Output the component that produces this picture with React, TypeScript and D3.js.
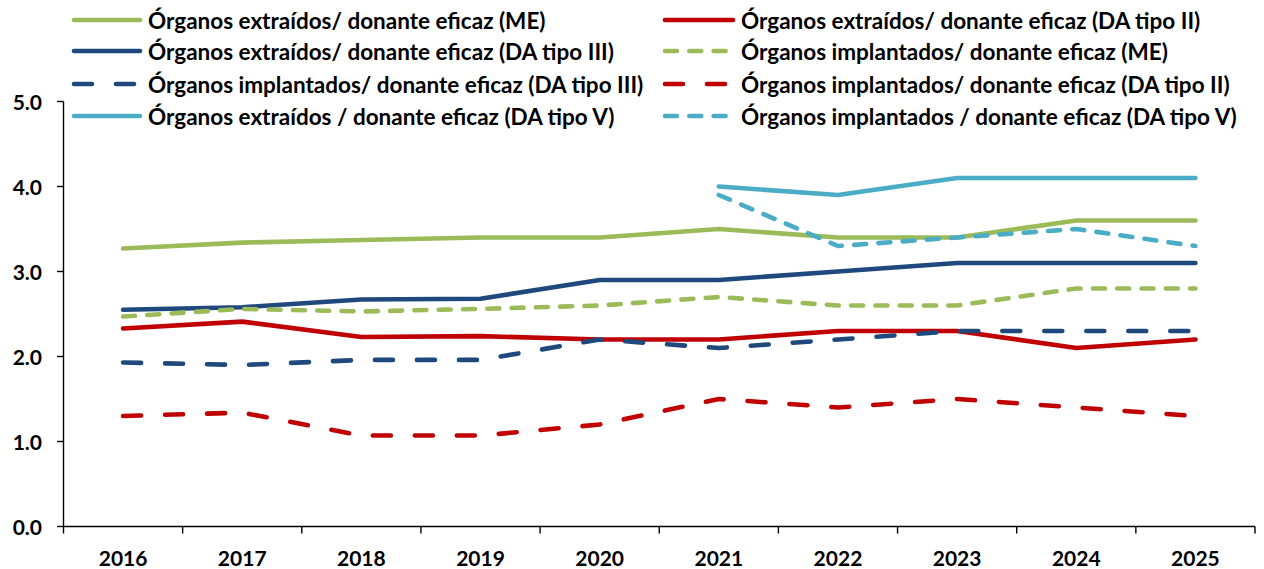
import React from "react";
import * as d3 from "d3";

const years = ["2016", "2017", "2018", "2019", "2020", "2021", "2022", "2023", "2024", "2025"];
const yTicks = [0, 1, 2, 3, 4, 5];

const meExtr = [3.27, 3.34, 3.37, 3.40, 3.40, 3.50, 3.40, 3.40, 3.60, 3.60];
const da2Extr = [2.33, 2.41, 2.23, 2.24, 2.20, 2.20, 2.30, 2.30, 2.10, 2.20];
const da3Extr = [2.55, 2.58, 2.67, 2.68, 2.90, 2.90, 3.00, 3.10, 3.10, 3.10];
const meImpl = [2.47, 2.56, 2.53, 2.56, 2.60, 2.70, 2.60, 2.60, 2.80, 2.80];
const da3Impl = [1.93, 1.90, 1.96, 1.96, 2.20, 2.10, 2.20, 2.30, 2.30, 2.30];
const da2Impl = [1.30, 1.34, 1.07, 1.07, 1.20, 1.50, 1.40, 1.50, 1.40, 1.30];
const da5Extr = [null, null, null, null, null, 4.0, 3.9, 4.1, 4.1, 4.1];
const da5Impl = [null, null, null, null, null, 3.9, 3.3, 3.4, 3.5, 3.3];

const GREEN = "#9BBB59";
const RED = "#C00000";
const NAVY = "#1F497D";
const CYAN = "#4BACC6";
const SHORT = "12,12.3";
const LONG = "18,24";

type S = { name: string; values: (number | null)[]; color: string; dash: string | null };

const series: S[] = [
  { name: "Órganos extraídos/ donante eficaz (ME)", values: meExtr, color: GREEN, dash: null },
  { name: "Órganos extraídos/ donante eficaz (DA tipo II)", values: da2Extr, color: RED, dash: null },
  { name: "Órganos extraídos/ donante eficaz (DA tipo III)", values: da3Extr, color: NAVY, dash: null },
  { name: "Órganos implantados/ donante eficaz (ME)", values: meImpl, color: GREEN, dash: SHORT },
  { name: "Órganos implantados/ donante eficaz (DA tipo III)", values: da3Impl, color: NAVY, dash: LONG },
  { name: "Órganos implantados/ donante eficaz (DA tipo II)", values: da2Impl, color: RED, dash: LONG },
  { name: "Órganos extraídos / donante eficaz (DA tipo V)", values: da5Extr, color: CYAN, dash: null },
  { name: "Órganos implantados / donante eficaz (DA tipo V)", values: da5Impl, color: CYAN, dash: SHORT },
];

const W = 1264;
const H = 569;
const FONT = "Lato, 'Open Sans', sans-serif";

export default function App() {
  const x = d3.scaleBand<string>().domain(years).range([63.5, 1255]).paddingInner(0).paddingOuter(0);
  const y = d3.scaleLinear().domain([0, 5]).range([526.5, 101.5]);
  const cx = (i: number) => (x(years[i]) as number) + x.bandwidth() / 2;

  const line = d3
    .line<number | null>()
    .defined((d) => d !== null)
    .x((_, i) => cx(i))
    .y((d) => y(d as number));

  const legendCols = [
    { x0: 72, x1: 142, tx: 148 },
    { x0: 663, x1: 735, tx: 741 },
  ];
  const legendRows = [20, 51, 84, 116];

  const boundaries = [...years.map((yr) => x(yr) as number), 1255];

  return (
    <svg width={W} height={H} style={{ position: "absolute", left: 0, top: 0, background: "#fff" }}>
      <rect x={0} y={0} width={W} height={H} fill="#fff" />
      {/* axes */}
      <line x1={63.5} y1={y(5)} x2={63.5} y2={y(0)} stroke="#000" strokeWidth={1.4} />
      <line x1={63.5} y1={y(0)} x2={1255} y2={y(0)} stroke="#000" strokeWidth={1.4} />
      {yTicks.map((t) => (
        <g key={t}>
          <line x1={57} x2={63.5} y1={y(t)} y2={y(t)} stroke="#000" strokeWidth={1.4} />
          <text
            x={42}
            y={y(t)}
            textAnchor="end"
            dominantBaseline="central"
            fontFamily={FONT}
            fontWeight="bold"
            fontSize={21}
            fill="#000"
          >
            {t.toFixed(1)}
          </text>
        </g>
      ))}
      {boundaries.map((b, i) => (
        <line key={i} x1={b} x2={b} y1={y(0)} y2={y(0) + 7} stroke="#000" strokeWidth={1.4} />
      ))}
      {years.map((yr, i) => (
        <text
          key={yr}
          x={cx(i)}
          y={557}
          textAnchor="middle"
          dominantBaseline="central"
          fontFamily={FONT}
          fontWeight="bold"
          fontSize={21}
          fill="#000"
        >
          {yr}
        </text>
      ))}
      {/* lines */}
      {series.map((s, i) => (
        <path
          key={i}
          d={line(s.values) || ""}
          fill="none"
          stroke={s.color}
          strokeWidth={4.6}
          strokeDasharray={s.dash || undefined}
          strokeLinecap="round"
          strokeLinejoin="round"
        />
      ))}
      {/* legend */}
      {series.map((s, i) => {
        const col = legendCols[i % 2];
        const ry = legendRows[Math.floor(i / 2)];
        return (
          <g key={"lg" + i}>
            <line
              x1={col.x0 + 2}
              x2={col.x1 - 2}
              y1={ry}
              y2={ry}
              stroke={s.color}
              strokeWidth={4.6}
              strokeDasharray={s.dash || undefined}
              strokeLinecap="round"
            />
            <text
              x={col.tx}
              y={ry}
              dominantBaseline="central"
              fontFamily={FONT}
              fontWeight="bold"
              fontSize={22.5}
              fill="#000"
            >
              {s.name}
            </text>
          </g>
        );
      })}
    </svg>
  );
}
